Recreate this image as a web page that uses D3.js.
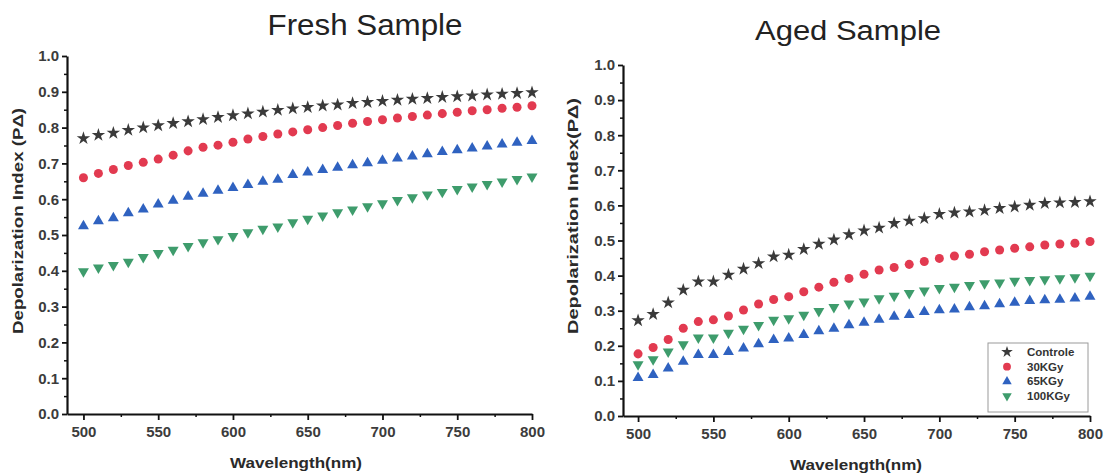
<!DOCTYPE html>
<html><head><meta charset="utf-8">
<script src="https://cdn.jsdelivr.net/npm/d3@7"></script>
<style>body{margin:0;background:#fff}svg{display:block}text{font-family:"Liberation Sans",Arial,sans-serif}</style>
</head><body><svg id="c" width="1107" height="475"></svg>
<script>
const wavelengths = d3.range(500, 801, 10);
const seriesNames = ["Controle", "30KGy", "65KGy", "100KGy"];
const xTicks = [500, 550, 600, 650, 700, 750, 800];
const yTicks = [0, 0.1, 0.2, 0.3, 0.4, 0.5, 0.6, 0.7, 0.8, 0.9, 1.0];

const freshControle = [0.770,0.779,0.785,0.793,0.800,0.806,0.812,0.817,0.823,0.829,0.834,0.839,0.844,0.849,0.853,0.857,0.861,0.864,0.868,0.871,0.874,0.877,0.880,0.882,0.885,0.887,0.889,0.892,0.894,0.896,0.898];
const fresh30 = [0.660,0.672,0.683,0.694,0.703,0.712,0.723,0.735,0.745,0.751,0.759,0.768,0.775,0.782,0.788,0.794,0.800,0.806,0.812,0.817,0.822,0.827,0.831,0.835,0.839,0.843,0.847,0.850,0.854,0.857,0.861];
const fresh65 = [0.525,0.539,0.547,0.561,0.572,0.586,0.596,0.607,0.616,0.624,0.632,0.640,0.649,0.655,0.668,0.675,0.682,0.688,0.695,0.701,0.708,0.714,0.720,0.726,0.732,0.737,0.742,0.748,0.753,0.758,0.763];
const fresh100 = [0.398,0.409,0.416,0.425,0.438,0.449,0.458,0.469,0.479,0.488,0.497,0.507,0.517,0.523,0.535,0.545,0.554,0.563,0.571,0.580,0.588,0.597,0.605,0.613,0.620,0.628,0.635,0.642,0.649,0.656,0.663];

const agedControle = [0.272,0.290,0.323,0.359,0.383,0.383,0.402,0.419,0.435,0.454,0.459,0.475,0.490,0.502,0.517,0.528,0.536,0.549,0.556,0.563,0.575,0.579,0.582,0.586,0.592,0.596,0.601,0.606,0.608,0.609,0.611];
const aged30 = [0.177,0.195,0.218,0.250,0.269,0.274,0.285,0.302,0.319,0.332,0.340,0.354,0.367,0.381,0.392,0.404,0.416,0.423,0.432,0.440,0.449,0.456,0.461,0.468,0.473,0.478,0.482,0.487,0.490,0.492,0.497];
const aged65 = [0.109,0.117,0.136,0.155,0.174,0.174,0.183,0.193,0.205,0.217,0.221,0.231,0.242,0.249,0.259,0.266,0.275,0.283,0.288,0.297,0.302,0.304,0.310,0.313,0.319,0.323,0.328,0.330,0.332,0.335,0.340];
const aged100 = [0.147,0.161,0.183,0.204,0.223,0.223,0.237,0.248,0.259,0.274,0.278,0.288,0.299,0.310,0.320,0.326,0.335,0.342,0.350,0.357,0.364,0.368,0.373,0.378,0.380,0.385,0.387,0.389,0.392,0.395,0.399];

const colors = ["#3a3a3a", "#e23a50", "#2f62c0", "#3e9c6c"];
const symbols = [
  {type: d3.symbolStar, size: 56, rot: 0},
  {type: d3.symbolCircle, size: 64, rot: 0},
  {type: d3.symbolTriangle, size: 52, rot: 0},
  {type: d3.symbolTriangle, size: 52, rot: 180}
];

const svg = d3.select("#c");
const tickFont = 15;

function panel(cfg) {
  const x = d3.scaleLinear().domain(cfg.xDomain).range([cfg.left, cfg.right]);
  const y = d3.scaleLinear().domain([0, 1]).range([cfg.bottom, cfg.top]);
  const g = svg.append("g");

  const yMinor = d3.range(0.05, 1, 0.1);
  const xMinor = [525, 575, 625, 675, 725, 775];
  g.append("g").attr("transform", `translate(${cfg.left},0)`)
    .call(d3.axisLeft(y).tickValues(yMinor).tickSize(3).tickFormat(""))
    .call(a => a.select(".domain").remove())
    .call(a => a.selectAll("line").attr("stroke", "#111").attr("stroke-width", 1.5));
  g.append("g").attr("transform", `translate(0,${cfg.bottom})`)
    .call(d3.axisBottom(x).tickValues(xMinor).tickSize(3).tickFormat(""))
    .call(a => a.select(".domain").remove())
    .call(a => a.selectAll("line").attr("stroke", "#111").attr("stroke-width", 1.5));

  const ya = g.append("g").attr("transform", `translate(${cfg.left},0)`)
    .call(d3.axisLeft(y).tickValues(yTicks).tickSize(5).tickSizeOuter(0).tickPadding(3).tickFormat(d3.format(".1f")));
  ya.select(".domain").attr("stroke", "#111").attr("stroke-width", 2.2);
  ya.selectAll(".tick line").attr("stroke", "#111").attr("stroke-width", 1.8);
  ya.selectAll(".tick text").attr("font-size", tickFont).attr("font-weight", "bold").attr("fill", "#3c3c3c")
    .attr("font-family", "'Liberation Sans',Arial,sans-serif");

  const xa = g.append("g").attr("transform", `translate(0,${cfg.bottom})`)
    .call(d3.axisBottom(x).tickValues(xTicks).tickSize(6).tickSizeOuter(0).tickPadding(6).tickFormat(d3.format("d")));
  xa.select(".domain").attr("stroke", "#111").attr("stroke-width", 2.2);
  xa.selectAll(".tick line").attr("stroke", "#111").attr("stroke-width", 1.8);
  xa.selectAll(".tick text").attr("font-size", tickFont).attr("font-weight", "bold").attr("fill", "#3c3c3c")
    .attr("font-family", "'Liberation Sans',Arial,sans-serif");

  cfg.series.forEach((vals, i) => {
    const sym = d3.symbol().type(symbols[i].type).size(symbols[i].size);
    g.append("g").selectAll("path").data(vals).join("path")
      .attr("d", sym)
      .attr("transform", (d, j) => `translate(${x(wavelengths[j])},${y(d)}) rotate(${symbols[i].rot})`)
      .attr("fill", colors[i]);
  });

  svg.append("text").attr("x", cfg.titleX).attr("y", cfg.titleY).attr("text-anchor", "middle")
    .attr("font-size", cfg.titleSize).attr("fill", "#222").attr("textLength", cfg.titleLen)
    .attr("lengthAdjust", "spacingAndGlyphs").text(cfg.title);

  svg.append("text").attr("transform", `translate(${cfg.yLabelX},${cfg.yLabelY}) rotate(-90)`)
    .attr("text-anchor", "middle").attr("font-size", 15).attr("font-weight", "bold").attr("fill", "#2a2a2a")
    .attr("textLength", cfg.yLabelLen).attr("lengthAdjust", "spacingAndGlyphs")
    .text(cfg.yLabel);
  svg.append("text").attr("x", cfg.xLabelX).attr("y", cfg.xLabelY).attr("text-anchor", "middle")
    .attr("font-size", 15).attr("font-weight", "bold").attr("fill", "#2a2a2a")
    .attr("textLength", 132).attr("lengthAdjust", "spacingAndGlyphs").text("Wavelength(nm)");

  return {x, y};
}

panel({
  xDomain: [489, 800], left: 67, right: 532, top: 56, bottom: 414,
  series: [freshControle, fresh30, fresh65, fresh100],
  title: "Fresh Sample", titleX: 365, titleY: 35, titleSize: 29, titleLen: 195,
  yLabel: "Depolarization Index (PΔ)", yLabelX: 23, yLabelY: 221, yLabelLen: 226,
  xLabelX: 296, xLabelY: 468
});

panel({
  xDomain: [490, 800], left: 623, right: 1090, top: 65, bottom: 416,
  series: [agedControle, aged30, aged65, aged100],
  title: "Aged Sample", titleX: 848, titleY: 40, titleSize: 27, titleLen: 186,
  yLabel: "Depolarization Index(PΔ)", yLabelX: 578, yLabelY: 216, yLabelLen: 236,
  xLabelX: 856, xLabelY: 470
});

const lg = svg.append("g");
lg.append("rect").attr("x", 988).attr("y", 343).attr("width", 100).attr("height", 69)
  .attr("fill", "#fff").attr("stroke", "#9a9a9a").attr("stroke-width", 1);
seriesNames.forEach((name, i) => {
  const cy = 352 + i * 14.7;
  lg.append("path").attr("d", d3.symbol().type(symbols[i].type).size(symbols[i].size * 0.75)())
    .attr("transform", `translate(1007,${cy}) rotate(${symbols[i].rot})`).attr("fill", colors[i]);
  lg.append("text").attr("x", 1027).attr("y", cy + 4).attr("font-size", 11.5).attr("font-weight", "bold")
    .attr("fill", "#333").text(name);
});
</script></body></html>
